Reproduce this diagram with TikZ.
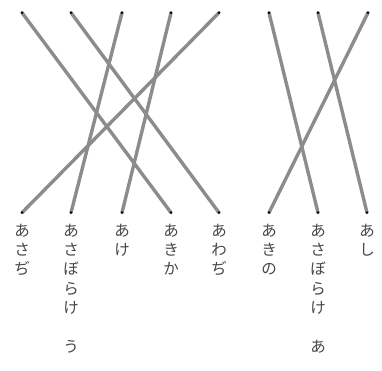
\documentclass[tikz,border=0pt]{standalone}
\usepackage{fontspec}
\newfontfamily\jp{Noto Sans CJK JP}
\definecolor{linegray}{RGB}{140,140,140}
\definecolor{textgray}{RGB}{70,70,70}
\tikzset{
  dot/.style={circle,fill=black,inner sep=0pt,minimum size=3pt},
  link/.style={line width=3.4pt,draw=linegray},
  vlabel/.style={anchor=north,inner sep=0pt,align=center,text=textgray,
    font=\jp\fontsize{15.5}{19.4}\selectfont}
}
\begin{document}
\begin{tikzpicture}[x=1pt,y=1pt]
\useasboundingbox (0,0) rectangle (382,-371);
\foreach \n/\x in {t1/22,t2/71,t3/122,t4/171,t5/219,t6/269,t7/318,t8/368}
  \coordinate (\n) at (\x,-12.7);
\foreach \n/\x in {b1/22,b2/71,b3/122,b4/171,b5/219,b6/269,b7/318,b8/367}
  \coordinate (\n) at (\x,-212.7);
\draw[link] (t1) -- (b4);
\draw[link] (t2) -- (b5);
\draw[link] (t3) -- (b2);
\draw[link] (t4) -- (b3);
\draw[link] (t5) -- (b1);
\draw[link] (t6) -- (b7);
\draw[link] (t7) -- (b8);
\draw[link] (t8) -- (b6);
\foreach \n in {t1,t2,t3,t4,t5,t6,t7,t8,b1,b2,b3,b4,b5,b6,b7,b8}
  \node[dot] (d\n) at (\n) {};
\node[vlabel] (l1) at (22,-223.5) {あ\\さ\\ぢ};
\node[vlabel] (l2) at (71,-223.5) {あ\\さ\\ぼ\\ら\\け\\\phantom{あ}\\う};
\node[vlabel] (l3) at (122,-223.5) {あ\\け};
\node[vlabel] (l4) at (171,-223.5) {あ\\き\\か};
\node[vlabel] (l5) at (219,-223.5) {あ\\わ\\ぢ};
\node[vlabel] (l6) at (269,-223.5) {あ\\き\\の};
\node[vlabel] (l7) at (318,-223.5) {あ\\さ\\ぼ\\ら\\け\\\phantom{あ}\\あ};
\node[vlabel] (l8) at (367,-223.5) {あ\\し};
\end{tikzpicture}
\end{document}
